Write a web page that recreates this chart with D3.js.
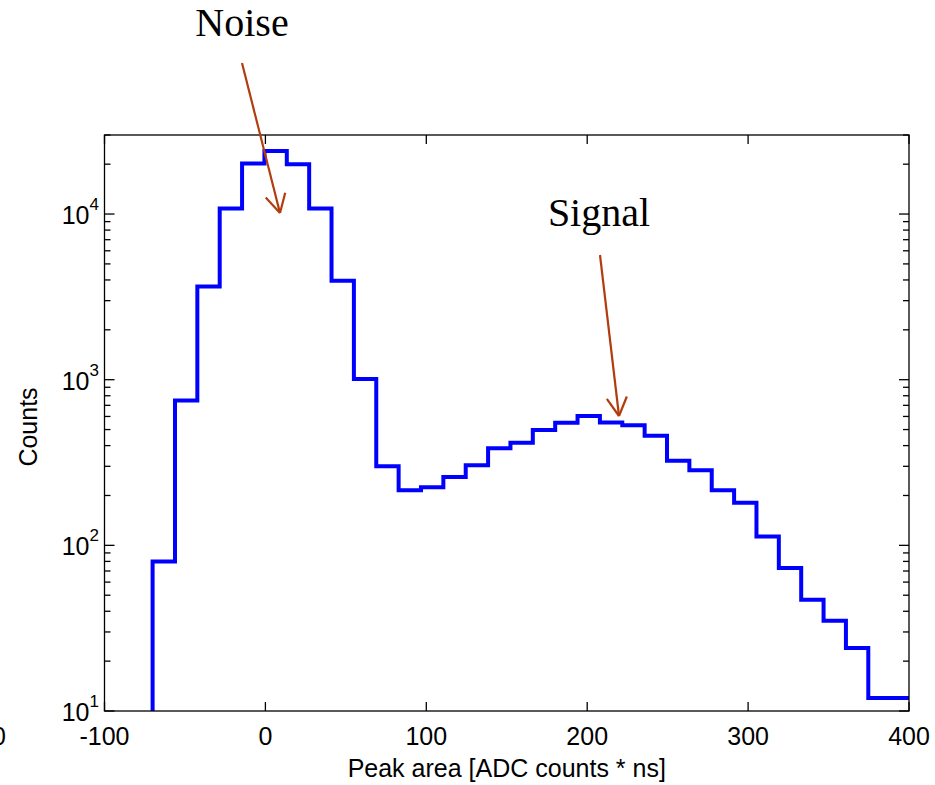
<!DOCTYPE html>
<html>

<head>
  <script src="https://d3js.org/d3.v7.min.js"></script>
  <style>
    body {
      margin: 0;
      background: white;
    }

    .tick-label {
      font-family: 'Liberation Sans', Arial, sans-serif;
      font-size: 25px;
      fill: black;
    }

    .note {
      font-family: 'Liberation Serif', 'Times New Roman', serif;
      font-size: 40px;
      fill: black;
    }
  </style>
</head>

<body>
  <div id="chart"></div>
  <script>
    // histogram bins (left edges + the last right edge)
    const binEdges = [-70.1, -56.2, -42.3, -28.4, -14.5, -0.6, 13.3, 27.2, 41.1, 55.0,
      68.9, 82.8, 96.7, 110.6, 124.5, 138.4, 152.3, 166.2, 180.1, 194.0,
      207.9, 221.8, 235.7, 249.6, 263.5, 277.4, 291.3, 305.2, 319.1, 333.0,
      346.9, 360.8, 374.7, 388.6, 402.5];
    const counts = [80, 750, 3650, 10800, 20200, 24000, 20000, 10800, 3950, 1010,
      300, 215, 224, 259, 304, 385, 416, 497, 549, 603,
      552, 530, 458, 324, 284, 215, 181, 113, 73, 47,
      35, 24, 12, 12];

    const xTicks = [-100, 0, 100, 200, 300, 400];
    const yMajor = [10, 100, 1000, 10000];
    const yExp = ["1", "2", "3", "4"];

    const width = 935, height = 785;
    const plotL = 104.5, plotR = 909, plotT = 135, plotB = 711;

    const svg = d3.select("#chart").append("svg")
      .attr("width", width)
      .attr("height", height);

    const x = d3.scaleLinear().domain([-100, 400]).range([plotL, plotR]);
    const y = d3.scaleLog().domain([10, 30000]).range([plotB, plotT]);

    svg.append("defs").append("clipPath").attr("id", "plotclip")
      .append("rect")
      .attr("x", plotL).attr("y", plotT)
      .attr("width", plotR - plotL).attr("height", plotB - plotT);

    // stairs
    const pts = [[binEdges[0], 10]];
    counts.forEach((c, i) => {
      pts.push([binEdges[i], c]);
      pts.push([binEdges[i + 1], c]);
    });
    const line = d3.line().x(d => x(d[0])).y(d => y(d[1]));

    svg.append("path")
      .attr("clip-path", "url(#plotclip)")
      .attr("d", line(pts))
      .attr("fill", "none")
      .attr("stroke", "#0000ff")
      .attr("stroke-width", 4)
      .attr("stroke-linejoin", "miter");

    // box
    svg.append("rect")
      .attr("x", plotL).attr("y", plotT)
      .attr("width", plotR - plotL).attr("height", plotB - plotT)
      .attr("fill", "none")
      .attr("stroke", "black")
      .attr("stroke-width", 1.3);

    // y ticks, major and minor, inward on both sides
    const yMinor = [];
    [10, 100, 1000, 10000].forEach(p => {
      for (let k = 2; k <= 9; k++) {
        if (p * k <= 30000) yMinor.push(p * k);
      }
    });
    const tickG = svg.append("g").attr("stroke", "black").attr("stroke-width", 1.3);
    yMajor.forEach(v => {
      tickG.append("line").attr("x1", plotL).attr("x2", plotL + 10).attr("y1", y(v)).attr("y2", y(v));
      tickG.append("line").attr("x1", plotR).attr("x2", plotR - 10).attr("y1", y(v)).attr("y2", y(v));
    });
    yMinor.forEach(v => {
      tickG.append("line").attr("x1", plotL).attr("x2", plotL + 6).attr("y1", y(v)).attr("y2", y(v));
      tickG.append("line").attr("x1", plotR).attr("x2", plotR - 6).attr("y1", y(v)).attr("y2", y(v));
    });
    xTicks.forEach(v => {
      tickG.append("line").attr("x1", x(v)).attr("x2", x(v)).attr("y1", plotB).attr("y2", plotB - 9);
      tickG.append("line").attr("x1", x(v)).attr("x2", x(v)).attr("y1", plotT).attr("y2", plotT + 9);
    });

    // y labels 10^n
    yMajor.forEach((v, i) => {
      const t = svg.append("text")
        .attr("class", "tick-label")
        .attr("text-anchor", "end")
        .attr("x", 99)
        .attr("y", y(v) + 10);
      t.append("tspan").text("10");
      t.append("tspan").attr("dy", -14).style("font-size", "17px").text(yExp[i]);
    });

    // x labels
    xTicks.forEach(v => {
      svg.append("text")
        .attr("class", "tick-label")
        .attr("text-anchor", "middle")
        .attr("x", x(v))
        .attr("y", 745)
        .text(v);
    });
    // cut-off label at the left edge
    svg.append("text")
      .attr("class", "tick-label")
      .attr("text-anchor", "end")
      .attr("x", 6)
      .attr("y", 745)
      .text("0");

    svg.append("text")
      .attr("class", "tick-label")
      .attr("text-anchor", "middle")
      .attr("x", (plotL + plotR) / 2)
      .attr("y", 777)
      .text("Peak area [ADC counts * ns]");

    svg.append("text")
      .attr("class", "tick-label")
      .attr("text-anchor", "middle")
      .attr("transform", `translate(37, ${(plotT + plotB) / 2 + 4}) rotate(-90)`)
      .text("Counts");

    // annotations
    const arrowColor = "#b23c0e";
    function arrow(x1, y1, x2, y2) {
      const g = svg.append("g").attr("stroke", arrowColor).attr("stroke-width", 2.2).attr("fill", "none");
      g.append("line").attr("x1", x1).attr("y1", y1).attr("x2", x2).attr("y2", y2);
      const a = Math.atan2(y2 - y1, x2 - x1);
      const len = 21, spread = 0.5;
      [a + Math.PI - spread, a + Math.PI + spread].forEach(b => {
        g.append("line")
          .attr("x1", x2).attr("y1", y2)
          .attr("x2", x2 + len * Math.cos(b)).attr("y2", y2 + len * Math.sin(b));
      });
    }

    svg.append("text").attr("class", "note").attr("text-anchor", "middle")
      .attr("x", 242).attr("y", 36).text("Noise");
    arrow(242, 63, 280, 213);

    svg.append("text").attr("class", "note").attr("text-anchor", "middle")
      .attr("x", 599).attr("y", 226).text("Signal");
    arrow(600, 255, 619, 416);
  </script>
</body>

</html>
